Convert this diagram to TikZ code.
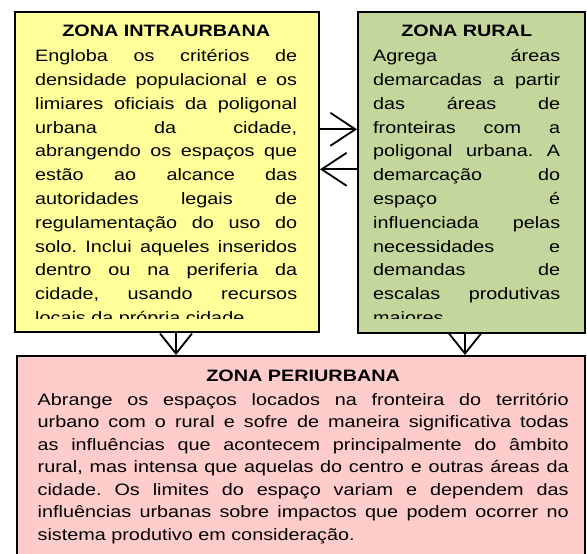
\documentclass[tikz,border=0pt]{standalone}
\usepackage{fontspec}
\setmainfont{Liberation Sans}[FakeStretch=1.2]
\usetikzlibrary{arrows.meta}
\definecolor{yellowc}{HTML}{FFFF99}
\definecolor{greenc}{HTML}{C3D69B}
\definecolor{pinkc}{HTML}{FFCCCC}
\newcommand\jline[1]{\hbox to \hsize{\spaceskip=0pt\xspaceskip=0pt\frenchspacing #1}\par}
\newcommand\lline[1]{\hbox{\spaceskip=0pt\xspaceskip=0pt\frenchspacing #1}\par}
\newcommand\tline[1]{\hbox to \hsize{\hss\bfseries #1\hss}\par}
\begin{document}
\begin{tikzpicture}[x=1pt,y=-1pt,
  zonebox/.style={draw=black, line width=2pt, inner sep=0pt, anchor=north west},
  zonetext/.style={anchor=base west, inner sep=0pt, align=justify},
  toptext/.style={zonetext, font=\fontsize{16.5}{23.8}\selectfont},
  bottext/.style={zonetext, font=\fontsize{16.5}{22.5}\selectfont},
  harr/.style={line width=1.8pt, -{Straight Barb[length=25pt, width=33pt, line width=1.8pt]}},
  varr/.style={line width=1.8pt, -{Straight Barb[length=20pt, width=32pt, line width=1.8pt]}}]
\path[use as bounding box, clip] (0,0) rectangle (587,554);
\fill[white] (0,0) rectangle (587,554);

% boxes
\node[zonebox, fill=yellowc, minimum width=304pt, minimum height=320pt] (intra) at (14,11) {};
\node[zonebox, fill=greenc, minimum width=227pt, minimum height=321pt] (rural) at (357,11) {};
\node[zonebox, fill=pinkc, minimum width=568pt, minimum height=215pt] (peri) at (16,355) {};

% texts of the upper boxes, cut off at the bottom
\begin{scope}
\clip (14,11) rectangle (318,318);
\node[toptext, text width=262pt] (intratxt) at (35,36.7) {%
\tline{ZONA INTRAURBANA}\vspace{1.2pt}
\jline{Engloba os critérios de}
\jline{densidade populacional e os}
\jline{limiares oficiais da poligonal}
\jline{urbana da cidade,}
\jline{abrangendo os espaços que}
\jline{estão ao alcance das}
\jline{autoridades legais de}
\jline{regulamentação do uso do}
\jline{solo. Inclui aqueles inseridos}
\jline{dentro ou na periferia da}
\jline{cidade, usando recursos}
\lline{locais da própria cidade.}};
\end{scope}
\begin{scope}
\clip (357,11) rectangle (584,318);
\node[toptext, text width=187pt] (ruraltxt) at (373,36.7) {%
\tline{ZONA RURAL}\vspace{1.2pt}
\jline{Agrega áreas}
\jline{demarcadas a partir}
\jline{das áreas de}
\jline{fronteiras com a}
\jline{poligonal urbana. A}
\jline{demarcação do}
\jline{espaço é}
\jline{influenciada pelas}
\jline{necessidades e}
\jline{demandas de}
\jline{escalas produtivas}
\lline{maiores.}};
\end{scope}

\node[bottext, text width=531pt] (peritxt) at (37.5,381.7) {%
\tline{ZONA PERIURBANA}\vspace{0.8pt}
\jline{Abrange os espaços locados na fronteira do território}
\jline{urbano com o rural e sofre de maneira significativa todas}
\jline{as influências que acontecem principalmente do âmbito}
\jline{rural, mas intensa que aquelas do centro e outras áreas da}
\jline{cidade. Os limites do espaço variam e dependem das}
\jline{influências urbanas sobre impactos que podem ocorrer no}
\lline{sistema produtivo em consideração.}};

% connectors
\coordinate (ya) at (0,129.3);
\coordinate (yb) at (0,169.3);
\coordinate (xa) at (176,0);
\coordinate (xb) at (465,0);
\draw[harr] (intra.east |- ya) -- (rural.west |- ya);
\draw[harr] (rural.west |- yb) -- (intra.east |- yb);
\draw[varr] (xa |- intra.south) -- (xa |- peri.north);
\draw[varr] (xb |- rural.south) -- (xb |- peri.north);
\end{tikzpicture}
\end{document}
